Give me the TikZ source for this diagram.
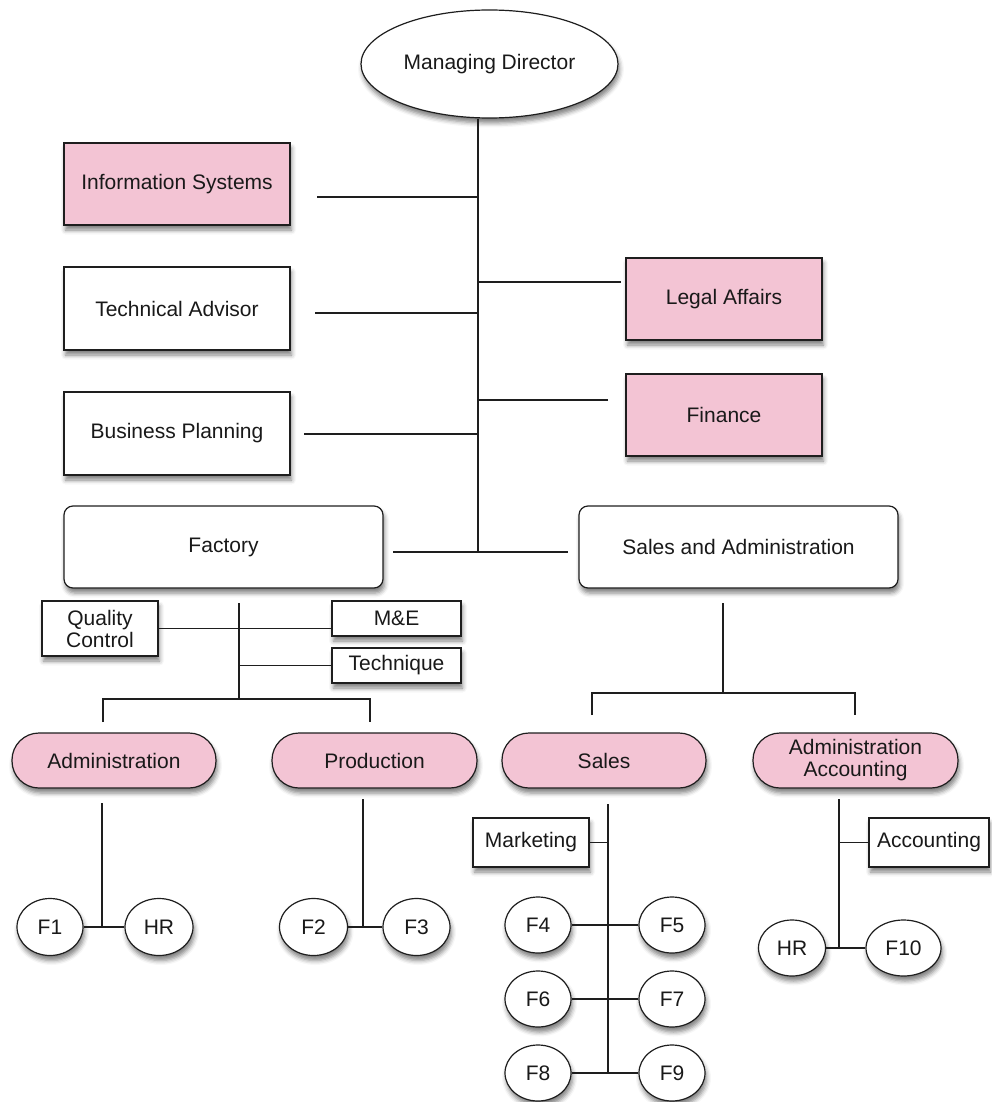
\documentclass[tikz,border=0pt]{standalone}
\usepackage{fontspec}
\setmainfont{Liberation Sans}
\usetikzlibrary{shapes.geometric,shadows.blur}

\definecolor{pinkfill}{RGB}{243,196,212}
\definecolor{inkline}{RGB}{30,30,30}

\begin{document}
\begin{tikzpicture}[x=1pt,y=-1pt,
  every node/.style={font=\fontsize{21}{22}\selectfont, text=black!90},
  unit/.style={draw=inkline, line width=1.2pt, inner sep=0pt, align=center,
    blur shadow={shadow xshift=1.5pt, shadow yshift=-5pt, shadow blur radius=4.5pt, shadow opacity=50}},
  boxwhite/.style={unit, rectangle, fill=white},
  boxpink/.style={unit, rectangle, fill=pinkfill},
  roundbox/.style={unit, rectangle, rounded corners=9pt, fill=white},
  pill/.style={unit, rectangle, rounded corners=27pt, fill=pinkfill},
  oval/.style={unit, ellipse, fill=white},
  link/.style={draw=inkline, line width=1.2pt},
]
\useasboundingbox (0,0) rectangle (991,1102);

% top level
\node[oval, minimum width=257pt, minimum height=108pt] (md) at (489.5,64) {Managing Director};

% staff units
\node[boxpink,  minimum width=226pt, minimum height=82pt] (is) at (177,184)   {Information Systems};
\node[boxwhite, minimum width=226pt, minimum height=83pt] (ta) at (177,308.5) {Technical Advisor};
\node[boxwhite, minimum width=226pt, minimum height=83pt] (bp) at (177,433.5) {Business Planning};
\node[boxpink,  minimum width=196pt, minimum height=82pt] (la) at (724,299)   {Legal Affairs};
\node[boxpink,  minimum width=196pt, minimum height=82pt] (fi) at (724,415)   {Finance};

% divisions
\node[roundbox, minimum width=319pt, minimum height=82pt] (fa) at (223.5,547) {Factory};
\node[roundbox, minimum width=319pt, minimum height=82pt] (sa) at (738.5,547) {Sales and Administration};

% factory support units
\node[boxwhite, minimum width=116pt, minimum height=55pt] (qc) at (100,628.5)   {Quality\\Control};
\node[boxwhite, minimum width=129pt, minimum height=35pt] (me) at (396.5,618.5) {M\&E};
\node[boxwhite, minimum width=129pt, minimum height=35pt] (te) at (396.5,665.5) {Technique};

% departments
\node[pill, minimum width=204pt, minimum height=55pt] (ad) at (114,760.5)   {Administration};
\node[pill, minimum width=205pt, minimum height=55pt] (pr) at (374.5,760.5) {Production};
\node[pill, minimum width=204pt, minimum height=55pt] (sl) at (604,760.5)   {Sales};
\node[pill, minimum width=205pt, minimum height=55pt] (aa) at (855.5,760.5) {Administration\\Accounting};

% sections
\node[oval, minimum width=66pt, minimum height=57pt] (f1)  at (50,927)    {F1};
\node[oval, minimum width=68pt, minimum height=57pt] (hr1) at (159,927)   {HR};
\node[oval, minimum width=68pt, minimum height=57pt] (f2)  at (313.5,927) {F2};
\node[oval, minimum width=67pt, minimum height=57pt] (f3)  at (416.5,927) {F3};

\node[boxwhite, minimum width=116pt, minimum height=49pt] (mk) at (531,842.5) {Marketing};
\node[oval, minimum width=66pt, minimum height=56pt] (f4) at (538,925)  {F4};
\node[oval, minimum width=66pt, minimum height=56pt] (f5) at (672,925)  {F5};
\node[oval, minimum width=66pt, minimum height=56pt] (f6) at (538,999)  {F6};
\node[oval, minimum width=66pt, minimum height=56pt] (f7) at (672,999)  {F7};
\node[oval, minimum width=66pt, minimum height=56pt] (f8) at (538,1073) {F8};
\node[oval, minimum width=66pt, minimum height=56pt] (f9) at (672,1073) {F9};

\node[boxwhite, minimum width=120pt, minimum height=49pt] (ac) at (929,842.5) {Accounting};
\node[oval, minimum width=67pt, minimum height=56pt] (hr2) at (792,948)   {HR};
\node[oval, minimum width=75pt, minimum height=56pt] (f10) at (903.5,948) {F10};

% trunk and free line ends
\coordinate (trunk) at (478,552);
\coordinate (isend) at (317,197);
\coordinate (taend) at (315,313);
\coordinate (bpend) at (304,434);
\coordinate (laend) at (621,282);
\coordinate (fiend) at (608,400);
\coordinate (faend) at (393,552);
\coordinate (saend) at (568,552);

\draw[link] (md.south -| trunk) -- (trunk);
\draw[link] (isend) -- (isend -| trunk);
\draw[link] (taend) -- (taend -| trunk);
\draw[link] (bpend) -- (bpend -| trunk);
\draw[link] (laend) -- (laend -| trunk);
\draw[link] (fiend) -- (fiend -| trunk);
\draw[link] (faend) -- (trunk) -- (saend);

% factory branch
\coordinate (fatop) at (239,603);
\coordinate (fabar) at (239,699);
\coordinate (adleg) at (103,722);
\coordinate (prleg) at (370,722);
\draw[link] (fatop) -- (fabar);
\draw[link] (qc.east) -- (qc.east -| me.west);
\draw[link] (te.west -| fatop) -- (te.west);
\draw[link] (adleg) -- (adleg |- fabar) -- (prleg |- fabar) -- (prleg);

% sales and administration branch
\coordinate (satop) at (723,603);
\coordinate (sabar) at (723,693);
\coordinate (slleg) at (592,715);
\coordinate (aaleg) at (855,715);
\draw[link] (satop) -- (sabar);
\draw[link] (slleg) -- (slleg |- sabar) -- (aaleg |- sabar) -- (aaleg);

% administration
\coordinate (adtop) at (102,803);
\draw[link] (adtop) -- (adtop |- f1.east);
\draw[link] (f1.east) -- (hr1.west);

% production
\coordinate (prtop) at (363,799);
\draw[link] (prtop) -- (prtop |- f2.east);
\draw[link] (f2.east) -- (f3.west);

% sales
\coordinate (sltop) at (608,804);
\draw[link] (sltop) -- (sltop |- f8.east);
\draw[link] (mk.east) -- (mk.east -| sltop);
\draw[link] (f4.east) -- (f5.west);
\draw[link] (f6.east) -- (f7.west);
\draw[link] (f8.east) -- (f9.west);

% administration accounting
\coordinate (aatop) at (839,799);
\draw[link] (aatop) -- (aatop |- hr2.east);
\draw[link] (ac.west) -- (ac.west -| aatop);
\draw[link] (hr2.east) -- (f10.west);
\end{tikzpicture}
\end{document}
